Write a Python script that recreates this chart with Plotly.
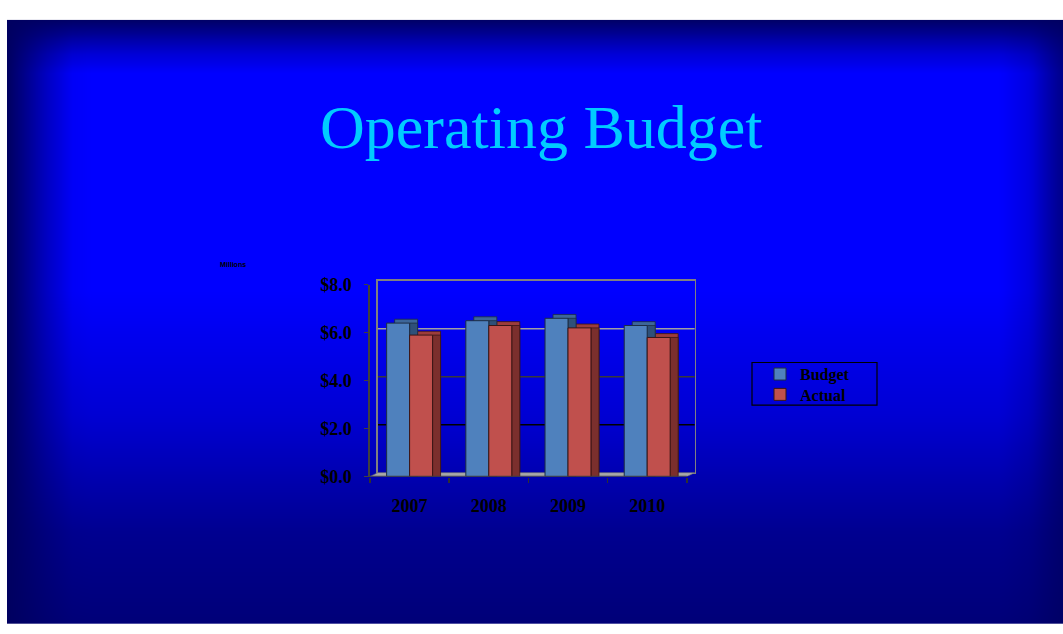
import numpy as np
import plotly.graph_objects as go

# ---------------- data ----------------
years = ["2007", "2008", "2009", "2010"]
budget = [6.4, 6.5, 6.6, 6.3]
actual = [5.9, 6.3, 6.2, 5.8]
y_ticks = [0, 2, 4, 6, 8]

# ---------------- style constants ----------------
W, H = 1063, 634
FRONT_L, FRONT_ZERO_Y = 370.0, 481.7      # px
PX_CAT, PX_UNIT = 79.2, 24.75             # px per category / per $1
DEPTH_X, DEPTH_Y = 8.0, 4.0               # 3-D depth in px
DX, DY = DEPTH_X / PX_CAT, DEPTH_Y / PX_UNIT
BAR_W = 0.29
YMAX = 8
serif = "Liberation Serif, Times New Roman, serif"

idx = list(range(len(years)))

fig = go.Figure()

# ---------------- background vignette (heatmap on full-page axes) ----------------
xs = np.linspace(7, W, 212)
ys = np.linspace(10, H, 126)
vert = np.interp(ys, [10, 25, 45, 65, 290, 420, 540, H], [0.05, 0.35, 0.75, 1, 1, 0.72, 0.3, 0.15])
horiz = np.interp(xs, [7, 20, 45, 72, 90, 1000, 1030, 1050, W], [0.0, 0.2, 0.6, 0.95, 1, 1, 0.8, 0.45, 0.25])
zbg = np.outer(vert, horiz)
fig.add_trace(go.Heatmap(x=xs, y=ys, z=zbg, colorscale=[[0, "#000060"], [1, "#0000ff"]],
                         zmin=0, zmax=1, showscale=False, hoverinfo="skip", zsmooth="best",
                         xaxis="x", yaxis="y"))

# ---------------- back plane (top faces) ----------------
fig.add_trace(go.Bar(x=idx, y=budget, offset=-BAR_W, width=BAR_W, marker_color="#3d6699",
                     marker_line=dict(color="#1c2c44", width=0.8), showlegend=False,
                     xaxis="x2", yaxis="y2", hoverinfo="skip"))
fig.add_trace(go.Bar(x=idx, y=actual, offset=0, width=BAR_W, marker_color="#9c3d3b",
                     marker_line=dict(color="#3a1515", width=0.8), showlegend=False,
                     xaxis="x2", yaxis="y2", hoverinfo="skip"))

# ---------------- front plane ----------------
fig.add_trace(go.Bar(x=idx, y=budget, offset=0, width=DX, marker_color="#2e5079",
                     marker_line=dict(color="#1c2c44", width=0.8), showlegend=False,
                     xaxis="x3", yaxis="y3", hoverinfo="skip"))
fig.add_trace(go.Bar(x=idx, y=budget, offset=-BAR_W, width=BAR_W, name="Budget",
                     marker_color="#4f81bd", marker_line=dict(color="#1c2c44", width=1),
                     xaxis="x3", yaxis="y3", legend="legend"))
fig.add_trace(go.Bar(x=idx, y=actual, offset=BAR_W, width=DX, marker_color="#7b2f2d",
                     marker_line=dict(color="#3a1515", width=0.8), showlegend=False,
                     xaxis="x3", yaxis="y3", hoverinfo="skip"))
fig.add_trace(go.Bar(x=idx, y=actual, offset=0, width=BAR_W, name="Actual",
                     marker_color="#c0504d", marker_line=dict(color="#3a1515", width=1),
                     xaxis="x3", yaxis="y3", legend="legend2"))

# ---------------- shapes: back-wall gridlines, floor, front edge, legend box ----------------
grid_colors = ["#000000", "#3a3a3a", "#a0a0a0"]
shapes = []
for v, c in zip(y_ticks[1:-1], grid_colors):
    shapes.append(dict(type="line", xref="x2", yref="y2", x0=-0.5, x1=len(years) - 0.5,
                       y0=v, y1=v, line=dict(color=c, width=1.6), layer="below"))
x_l, x_r = -0.5, len(years) - 0.5
shapes.append(dict(type="path", xref="x3", yref="y3", layer="below",
                   path=f"M {x_l},0 L {x_r},0 L {x_r + DX},{DY} L {x_l + DX},{DY} Z",
                   fillcolor="#a8a8a8", line=dict(color="#707070", width=0.6)))
shapes.append(dict(type="line", xref="x3", yref="y3", x0=x_l, x1=x_r, y0=0, y1=0,
                   line=dict(color="#404040", width=1.6)))
shapes.append(dict(type="rect", xref="paper", yref="paper",
                   x0=752 / W, x1=877 / W, y0=1 - 408 / H, y1=1 - 364 / H,
                   line=dict(color="black", width=1.2), fillcolor="rgba(0,0,0,0)"))

# domains in paper units
fx0 = FRONT_L / W
fx1 = (FRONT_L + (len(years) + DX) * PX_CAT) / W
fy0 = 1 - FRONT_ZERO_Y / H
fy1 = 1 - (FRONT_ZERO_Y - YMAX * PX_UNIT) / H
bx0 = (FRONT_L + DEPTH_X) / W
bx1 = (FRONT_L + DEPTH_X + len(years) * PX_CAT) / W
by0 = 1 - (FRONT_ZERO_Y - DEPTH_Y) / H
by1 = 1 - (FRONT_ZERO_Y - DEPTH_Y - YMAX * PX_UNIT) / H

hidden = dict(visible=False, showgrid=False, zeroline=False, fixedrange=True)
leg_style = dict(bgcolor="rgba(0,0,0,0)", borderwidth=0, itemwidth=30,
                 font=dict(family=serif, size=16, color="black", weight="bold"),
                 xanchor="left", yanchor="middle", x=760 / W)

fig.update_layout(
    width=W, height=H,
    margin=dict(l=0, r=0, t=0, b=0),
    paper_bgcolor="white", plot_bgcolor="rgba(0,0,0,0)",
    barmode="overlay", bargap=0,
    xaxis=dict(hidden, domain=[7 / W, 1], range=[7, W], anchor="y"),
    yaxis=dict(hidden, domain=[0, 1 - 10 / H], range=[H, 10], anchor="x"),
    xaxis2=dict(domain=[bx0, bx1], range=[-0.5, len(years) - 0.5], anchor="y2",
                showgrid=False, zeroline=False, showline=True, mirror=True,
                linecolor="#808080", linewidth=1.6, showticklabels=False, ticks=""),
    yaxis2=dict(domain=[by0, by1], range=[0, YMAX], anchor="x2",
                showgrid=False, zeroline=False, showline=True, mirror=True,
                linecolor="#808080", linewidth=1.6, showticklabels=False, ticks=""),
    xaxis3=dict(domain=[fx0, fx1], range=[-0.5, len(years) - 0.5 + DX], anchor="y3",
                showgrid=False, zeroline=False, showline=False,
                tickvals=idx, ticktext=years, ticks="", ticklabelstandoff=16,
                tickfont=dict(family=serif, size=18, color="black", weight="bold"),
                minor=dict(tickvals=[i - 0.5 for i in range(len(years) + 1)],
                           ticks="outside", ticklen=5, tickcolor="#303030", tickwidth=1.5)),
    yaxis3=dict(domain=[fy0, fy1], range=[0, YMAX], anchor="x3",
                showgrid=False, zeroline=False, showline=True, linecolor="#404040", linewidth=1.6,
                tickvals=y_ticks, tickformat="$.1f", ticks="outside", ticklen=4,
                tickcolor="#404040", ticklabelstandoff=9,
                tickfont=dict(family=serif, size=18, color="black", weight="bold")),
    legend=dict(leg_style, y=1 - 376 / H),
    legend2=dict(leg_style, y=1 - 397 / H),
    shapes=shapes,
    annotations=[
        dict(text="Operating Budget", x=541.5 / W, y=1 - 121 / H, xref="paper", yref="paper",
             xanchor="center", yanchor="middle", showarrow=False,
             font=dict(family=serif, size=62, color="#00ccff")),
        dict(text="Millions", x=233 / W, y=1 - 263 / H, xref="paper", yref="paper",
             xanchor="center", yanchor="middle", showarrow=False,
             font=dict(family="Liberation Sans, Arial, sans-serif", size=7, color="black",
                       weight="bold")),
    ],
)

fig.write_html(
    "out.html",
    config={"displayModeBar": False, "staticPlot": True},
    post_script=("document.body.style.margin='0';"
                 "document.documentElement.style.overflow='hidden';"
                 "var gd=document.getElementById('{plot_id}');"
                 "gd.style.position='fixed';gd.style.top='0';gd.style.left='0';"),
)
